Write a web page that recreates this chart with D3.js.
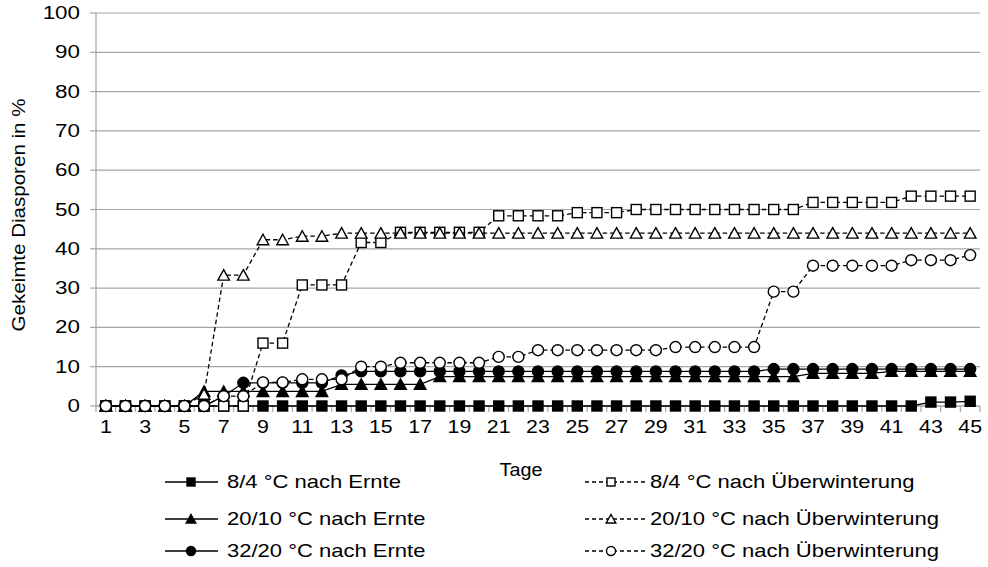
<!DOCTYPE html>
<html><head><meta charset="utf-8">
<script src="https://cdn.jsdelivr.net/npm/d3@7/dist/d3.min.js"></script>
<style>body{margin:0;background:#fff}svg{display:block}text{font-family:"Liberation Sans",Arial,sans-serif;fill:#000}</style>
</head><body><svg id="c" width="988" height="567"></svg>
<script>
const days = [1,2,3,4,5,6,7,8,9,10,11,12,13,14,15,16,17,18,19,20,21,22,23,24,25,26,27,28,29,30,31,32,33,34,35,36,37,38,39,40,41,42,43,44,45];
const xTickLabels = [1,3,5,7,9,11,13,15,17,19,21,23,25,27,29,31,33,35,37,39,41,43,45];
const yTicks = [0,10,20,30,40,50,60,70,80,90,100];

const s84Ernte   = [0,0,0,0,0,0,0,0,0,0, 0,0,0,0,0,0,0,0,0,0, 0,0,0,0,0,0,0,0,0,0, 0,0,0,0,0,0,0,0,0,0, 0,0,1,1,1.2];
const s2010Ernte = [0,0,0,0,0,3.7,3.7,3.7,3.7,3.7, 3.7,3.7,5.5,5.5,5.5,5.5,5.5,7.5,7.5,7.5, 7.5,7.5,7.5,7.5,7.5,7.5,7.5,7.5,7.5,7.5, 7.5,7.5,7.5,7.5,7.5,7.5,8.3,8.3,8.3,8.3, 8.8,8.8,8.8,8.8,8.8];
const s3220Ernte = [0,0,0,0,0,0,2.5,5.9,5.9,5.9, 5.9,5.9,7.8,8.8,8.8,8.8,8.8,8.8,8.8,8.8, 8.8,8.8,8.8,8.8,8.8,8.8,8.8,8.8,8.8,8.8, 8.8,8.8,8.8,8.8,9.4,9.4,9.4,9.4,9.4,9.4, 9.4,9.4,9.4,9.4,9.4];
const s84Ueber   = [0,0,0,0,0,0,0,0,16,16, 30.8,30.8,30.8,41.6,41.6,44.2,44.2,44.2,44.2,44.2, 48.4,48.4,48.4,48.4,49.2,49.2,49.2,50,50,50, 50,50,50,50,50,50,51.8,51.8,51.8,51.8, 51.8,53.4,53.4,53.4,53.4];
const s2010Ueber = [0,0,0,0,0,3,33.3,33.3,42.3,42.3, 43.2,43.2,44,44,44,44,44,44,44,44, 44,44,44,44,44,44,44,44,44,44, 44,44,44,44,44,44,44,44,44,44, 44,44,44,44,44];
const s3220Ueber = [0,0,0,0,0,0,2.5,2.5,6,6, 6.8,6.8,6.8,10,10,11,11,11,11,11, 12.5,12.5,14.2,14.2,14.2,14.2,14.2,14.2,14.2,15, 15,15,15,15,29.1,29.1,35.7,35.7,35.7,35.7, 35.7,37.1,37.1,37.1,38.4];

const seriesNames = ["8/4 °C nach Ernte","20/10 °C nach Ernte","32/20 °C nach Ernte","8/4 °C nach Überwinterung","20/10 °C nach Überwinterung","32/20 °C nach Überwinterung"];
const seriesValues = [s84Ernte, s2010Ernte, s3220Ernte, s84Ueber, s2010Ueber, s3220Ueber];
const seriesShapes = ["square","triangle","circle","square","triangle","circle"];
const seriesFilled = [true,true,true,false,false,false];
const seriesDashed = [false,false,false,true,true,true];

const svg = d3.select("#c");
const x = d3.scaleBand().domain(days).range([96,980]).padding(0);
const y = d3.scaleLinear().domain([0,100]).range([406,13]);
const cx = d => x(d) + x.bandwidth()/2;
const gridCol = "#a6a6a6";

function stext(g, str, tx, ty, size, anchor, sx){
  return g.append("text").attr("transform",`translate(${tx},${ty}) scale(${sx},1)`)
    .attr("text-anchor",anchor).attr("dominant-baseline","central")
    .style("font-size",size+"px").text(str);
}

// gridlines
svg.append("g").selectAll("line").data(yTicks).join("line")
  .attr("x1",96).attr("x2",980).attr("y1",d=>y(d)).attr("y2",d=>y(d))
  .attr("stroke",gridCol).attr("stroke-width",1.2);
// y axis
const yg = svg.append("g");
yg.append("line").attr("x1",96).attr("x2",96).attr("y1",y(100)).attr("y2",y(0)).attr("stroke",gridCol).attr("stroke-width",1.2);
yg.selectAll("line.t").data(yTicks).join("line").attr("class","t")
  .attr("x1",90).attr("x2",96).attr("y1",d=>y(d)).attr("y2",d=>y(d)).attr("stroke",gridCol).attr("stroke-width",1.2);
yTicks.forEach(t=>stext(yg,String(t),80,y(t),17.5,"end",1.28));
// x axis
const xg = svg.append("g");
xg.append("line").attr("x1",96).attr("x2",980).attr("y1",y(0)).attr("y2",y(0)).attr("stroke",gridCol).attr("stroke-width",1.2);
const bounds = days.map(d=>x(d)).concat([x(days[days.length-1])+x.bandwidth()]);
xg.selectAll("line.t").data(bounds).join("line").attr("class","t")
  .attr("x1",d=>d).attr("x2",d=>d).attr("y1",y(0)).attr("y2",y(0)+6).attr("stroke",gridCol).attr("stroke-width",1.2);
xTickLabels.forEach(t=>stext(xg,String(t),cx(t),427,17.5,"middle",1.22));

// titles
stext(svg,"Tage",521,470,18.5,"middle",1.07);
svg.append("text").attr("transform",`translate(19,215) rotate(-90)`).attr("text-anchor","middle")
  .attr("dominant-baseline","central").style("font-size","17.5px").attr("textLength",233).attr("lengthAdjust","spacingAndGlyphs")
  .text("Gekeimte Diasporen in %");

function marker(g, shape, filled, px, py, s){
  const fill = filled ? "#000" : "#fff";
  let el;
  if(shape==="square") el = g.append("rect").attr("x",px-s/2).attr("y",py-s/2).attr("width",s).attr("height",s);
  else if(shape==="circle") el = g.append("circle").attr("cx",px).attr("cy",py).attr("r",s/2+0.5);
  else el = g.append("path").attr("d",`M${px},${py-s/2-0.5}L${px+s/2+0.8},${py+s/2}L${px-s/2-0.8},${py+s/2}Z`);
  el.attr("fill",fill).attr("stroke","#000").attr("stroke-width",1.4);
}

const line = d3.line().x(d=>cx(d.day)).y(d=>y(d.v));
const plot = svg.append("g");
seriesValues.forEach((vals,i)=>{
  const pts = days.map((d,j)=>({day:d,v:vals[j]}));
  const g = plot.append("g");
  g.append("path").attr("d",line(pts)).attr("fill","none").attr("stroke","#000").attr("stroke-width",1.3)
    .attr("stroke-dasharray",seriesDashed[i]?"4.5,3":null);
  pts.forEach(p=>marker(g,seriesShapes[i],seriesFilled[i],cx(p.day),y(p.v),10));
});

// legend
const leg = svg.append("g");
const legRowsY = [482,519,551];
seriesNames.forEach((name,i)=>{
  const col = i<3 ? 0 : 1;
  const row = i%3;
  const ly = legRowsY[row];
  const x0 = col===0 ? 165 : 585, x1 = col===0 ? 218 : 645, mx = col===0 ? 191 : 611;
  const tx = col===0 ? 227 : 650;
  leg.append("line").attr("x1",x0).attr("x2",x1).attr("y1",ly).attr("y2",ly).attr("stroke","#000").attr("stroke-width",1.3)
    .attr("stroke-dasharray",seriesDashed[i]?"4,3":null);
  marker(leg,seriesShapes[i],seriesFilled[i],mx,ly,8);
  stext(leg,name,tx,ly,18.5,"start",1.19);
});
</script></body></html>
